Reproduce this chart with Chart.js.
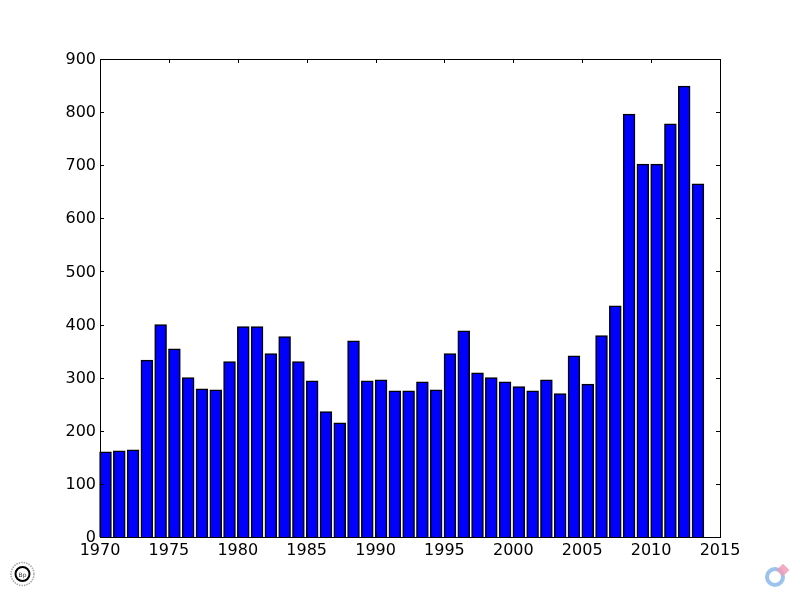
<!DOCTYPE html>
<html>
<head>
<meta charset="utf-8">
<title>Chart</title>
<script src="https://cdn.jsdelivr.net/npm/chart.js@4/dist/chart.umd.min.js"></script>
<style>
    html, body { margin: 0; padding: 0; background: #fff; overflow: hidden; }
    #wrap { position: relative; width: 800px; height: 597px; }
    canvas, svg { position: absolute; left: 0; top: 0; }
</style>
</head>
<body>
<div id="wrap">
    <canvas id="barChart" width="800" height="597"></canvas>
    <svg width="800" height="597">
        <!-- left badge -->
        <circle cx="22.5" cy="574" r="11.5" fill="none" stroke="#aaa" stroke-width="1.6" stroke-dasharray="1.5 1"/>
        <circle cx="22.5" cy="574" r="7" fill="#fff" stroke="#000" stroke-width="2"/>
        <text x="22.5" y="576.5" font-family="DejaVu Sans" font-size="6" text-anchor="middle" fill="#333">Bp</text>
        <!-- right badge -->
        <circle cx="775" cy="577" r="8" fill="none" stroke="#9cc3ee" stroke-width="4"/>
        <rect x="778.5" y="565.5" width="9" height="9" fill="#f29bb6" fill-opacity="0.85" transform="rotate(45 783 570)"/>
    </svg>
</div>
<script>
const years = [1970, 1971, 1972, 1973, 1974, 1975, 1976, 1977, 1978, 1979, 1980,
    1981, 1982, 1983, 1984, 1985, 1986, 1987, 1988, 1989, 1990, 1991, 1992, 1993,
    1994, 1995, 1996, 1997, 1998, 1999, 2000, 2001, 2002, 2003, 2004, 2005, 2006,
    2007, 2008, 2009, 2010, 2011, 2012, 2013];
const counts = [160, 162, 164, 333, 400, 354, 300, 279, 277, 330, 396,
    396, 345, 377, 330, 294, 236, 215, 369, 294, 296, 275, 275, 292,
    277, 345, 388, 309, 300, 292, 283, 275, 296, 270, 341, 288, 379,
    435, 796, 702, 702, 778, 849, 665];

// bars start at the year and are 0.8 wide, so the centre sits 0.4 further on
const barData = years.map((y, i) => ({ x: y + 0.4, y: counts[i] }));

// frame with inward ticks on all four sides
const framePlugin = {
    id: 'frame',
    afterDatasetsDraw(chart) {
        const { ctx, chartArea: a, scales } = chart;
        const tickLen = 4;
        ctx.save();
        ctx.strokeStyle = '#000';
        ctx.lineWidth = 1;
        ctx.beginPath();
        scales.x.ticks.forEach(t => {
            const px = Math.round(scales.x.getPixelForValue(t.value)) + 0.5;
            ctx.moveTo(px, a.top);
            ctx.lineTo(px, a.top + tickLen);
            ctx.moveTo(px, a.bottom);
            ctx.lineTo(px, a.bottom - tickLen);
        });
        scales.y.ticks.forEach(t => {
            const py = Math.round(scales.y.getPixelForValue(t.value)) + 0.5;
            ctx.moveTo(a.left, py);
            ctx.lineTo(a.left + tickLen, py);
            ctx.moveTo(a.right, py);
            ctx.lineTo(a.right - tickLen, py);
        });
        ctx.stroke();
        ctx.strokeRect(a.left + 0.5, a.top + 0.5, a.right - a.left, a.bottom - a.top);
        ctx.restore();
    }
};

new Chart(document.getElementById('barChart').getContext('2d'), {
    type: 'bar',
    data: {
        datasets: [{
            data: barData,
            backgroundColor: '#0000ff',
            borderColor: '#000',
            borderWidth: 1.5,
            inflateAmount: 0.4,
            barPercentage: 0.85,
            categoryPercentage: 1,
            clip: false
        }]
    },
    options: {
        responsive: false,
        animation: false,
        layout: { padding: { top: 59, right: 80 } },
        plugins: { legend: { display: false }, tooltip: { enabled: false } },
        scales: {
            x: {
                type: 'linear',
                min: 1970,
                max: 2015,
                offset: false,
                grid: { display: false, drawTicks: false },
                border: { display: false },
                afterFit: s => { s.height = 60; },
                ticks: {
                    stepSize: 5,
                    padding: 4,
                    maxRotation: 0,
                    autoSkip: false,
                    color: '#000',
                    font: { family: 'DejaVu Sans', size: 16 },
                    callback: v => String(v)
                }
            },
            y: {
                min: 0,
                max: 900,
                grid: { display: false, drawTicks: false },
                border: { display: false },
                afterFit: s => { s.width = 100; },
                ticks: {
                    stepSize: 100,
                    padding: 4,
                    labelOffset: 1,
                    color: '#000',
                    font: { family: 'DejaVu Sans', size: 16 }
                }
            }
        }
    },
    plugins: [framePlugin]
});
</script>
</body>
</html>
